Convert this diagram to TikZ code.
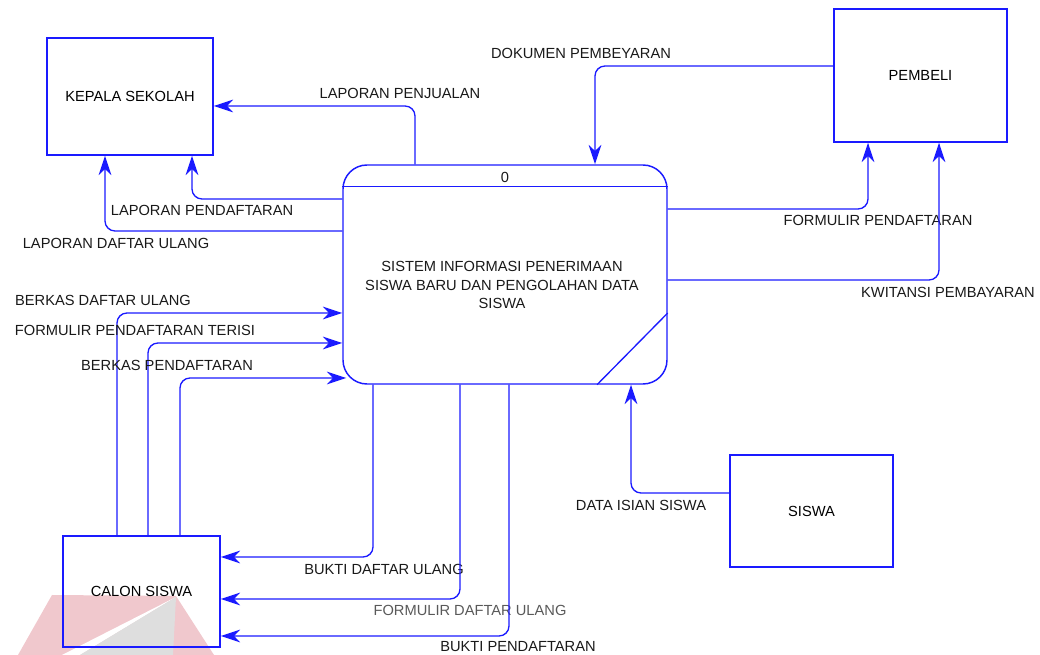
\documentclass[tikz,border=0pt]{standalone}
\usepackage{fontspec}
\setmainfont{Liberation Sans}
\usetikzlibrary{arrows.meta,calc}
\definecolor{dfdblue}{RGB}{26,26,255}
\definecolor{wmred}{RGB}{240,200,205}
\definecolor{wmgray}{RGB}{222,222,222}
\begin{document}
\begin{tikzpicture}[x=0.75pt,y=0.75pt,
		entity/.style={draw=dfdblue,line width=1.1pt,inner sep=0pt,font=\fontsize{11}{13.9}\selectfont},
		proc/.style={draw=dfdblue,line width=1.1pt,rounded corners=18pt,minimum width=243pt,minimum height=164.25pt},
		flow/.style={draw=dfdblue,line width=1pt,rounded corners=7.5pt,-{Stealth[length=14.5pt,width=9.5pt,inset=4.5pt]}},
		lbl/.style={inner sep=0pt,text=black!90,font=\fontsize{11}{13.9}\selectfont}]
		\useasboundingbox (0,0) rectangle (1040,-655);
		\fill [wmred] (18,-655) -- (52,-595) -- (176,-596) -- (214,-655) -- cycle;
		\fill [white] (176,-597) -- (62,-655) -- (80,-655) -- cycle;
		\fill [wmgray] (176,-597) -- (80,-655) -- (173,-655) -- cycle;
		\node [entity,minimum width=124.5pt,minimum height=87.75pt] (kepala) at (130,-96.5) {KEPALA SEKOLAH};
		\node [entity,minimum width=129.75pt,minimum height=99.75pt] (pembeli) at (920.5,-75.5) {PEMBELI};
		\node [entity,minimum width=122.25pt,minimum height=84pt] (siswa) at (811.5,-511) {SISWA};
		\node [entity,minimum width=117.75pt,minimum height=83.25pt] (calon) at (141.5,-591.5) {CALON SISWA};
		\node [proc] (proc) at (505,-274.5) {};
		\node [lbl] (procid) at (505,-177) {0};
		\node [lbl,align=center] (procname) at (502,-285) {SISTEM INFORMASI PENERIMAAN\\SISWA BARU DAN PENGOLAHAN DATA\\SISWA};
		\draw [dfdblue,line width=1.1pt] ([yshift=-16.5pt]proc.north west) -- ([yshift=-16.5pt]proc.north east);
		\draw [dfdblue,line width=1pt] (proc.east |- 0,-313) -- (proc.south -| 597,0);
		\draw [flow] (proc.north -| 415,0) |- (kepala.east |- 0,-106);
		\node [lbl] (lpenjualan) at (400,-93) {LAPORAN PENJUALAN};
		\draw [flow] (proc.west |- 0,-199) -| (kepala.south -| 192,0);
		\node [lbl] (lpendaftaran) at (202,-210) {LAPORAN PENDAFTARAN};
		\draw [flow] (proc.west |- 0,-231) -| (kepala.south -| 105,0);
		\node [lbl] (ldaftarulang) at (116,-243) {LAPORAN DAFTAR ULANG};
		\draw [flow] (calon.north -| 117,0) |- (proc.west |- 0,-313);
		\node [lbl] (bdaftarulang) at (103,-300) {BERKAS DAFTAR ULANG};
		\draw [flow] (calon.north -| 148,0) |- (proc.west |- 0,-343);
		\node [lbl] (fterisi) at (135,-330) {FORMULIR PENDAFTARAN TERISI};
		\draw [flow] (calon.north -| 180,0) |- ($(proc.west |- 0,-378)+(4,0)$);
		\node [lbl] (bpendaftaran) at (167,-365) {BERKAS PENDAFTARAN};
		\draw [flow] (proc.south -| 373,0) |- (calon.east |- 0,-557);
		\node [lbl] (buktidu) at (384,-569) {BUKTI DAFTAR ULANG};
		\draw [flow] (proc.south -| 460,0) |- (calon.east |- 0,-599);
		\node [lbl,text=black!65] (formdu) at (470,-610) {FORMULIR DAFTAR ULANG};
		\draw [flow] (proc.south -| 509,0) |- (calon.east |- 0,-636);
		\node [lbl] (buktipd) at (518,-647) {BUKTI PENDAFTARAN};
		\draw [flow] (siswa.west |- 0,-493) -| (proc.south -| 631,0);
		\node [lbl] (dataisian) at (641,-505) {DATA ISIAN SISWA};
		\draw [flow] (pembeli.west |- 0,-66) -| (proc.north -| 595,0);
		\node [lbl] (dokumen) at (581,-53) {DOKUMEN PEMBEYARAN};
		\draw [flow] (proc.east |- 0,-209) -| (pembeli.south -| 868,0);
		\node [lbl] (fpendaftaran) at (878,-220) {FORMULIR PENDAFTARAN};
		\draw [flow] (proc.east |- 0,-280) -| (pembeli.south -| 939,0);
		\node [lbl] (kwitansi) at (948,-292) {KWITANSI PEMBAYARAN};
	\end{tikzpicture}
\end{document}
